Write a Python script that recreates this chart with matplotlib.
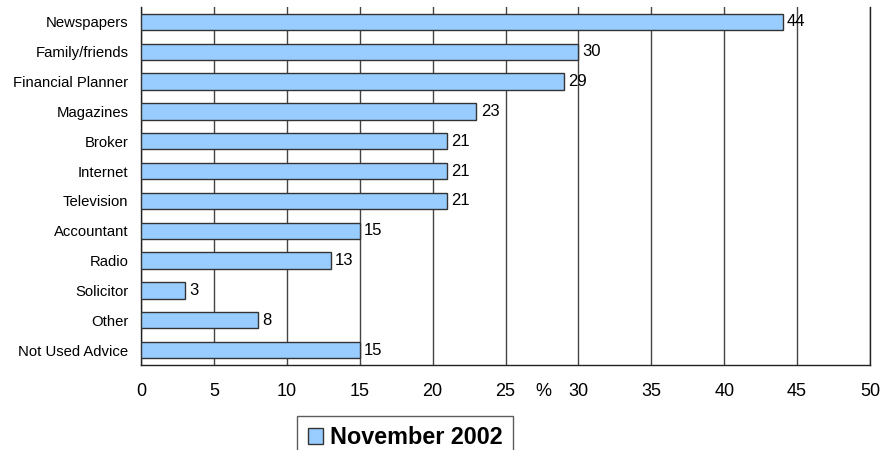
import matplotlib.pyplot as plt
from matplotlib.patches import Patch

categories = ["Newspapers", "Family/friends", "Financial Planner", "Magazines",
              "Broker", "Internet", "Television", "Accountant", "Radio",
              "Solicitor", "Other", "Not Used Advice"]
values = [44, 30, 29, 23, 21, 21, 21, 15, 13, 3, 8, 15]
series_name = "November 2002"
x_ticks = [0, 5, 10, 15, 20, 25, 30, 35, 40, 45, 50]

plt.rcParams['font.family'] = ['Liberation Sans', 'DejaVu Sans']

fig = plt.figure(figsize=(8.83, 4.5), dpi=100)
ax = fig.add_axes([141 / 883, 85 / 450, 729 / 883, 358 / 450])

pos = list(range(len(categories)))
ax.barh(pos, values, height=0.55, color="#99CCFF", edgecolor="#333333",
        linewidth=1, zorder=3)

for p, v in zip(pos, values):
    ax.text(v + 0.3, p, str(v), va="center", ha="left", fontsize=12, zorder=4)

ax.set_xlim(0, 50)
ax.set_ylim(len(categories) - 0.5, -0.5)
ax.set_xticks(x_ticks)
ax.set_xticklabels([str(t) for t in x_ticks], fontsize=13)
ax.set_yticks(pos)
ax.set_yticklabels(categories, fontsize=10.7)
ax.tick_params(axis="x", length=0, pad=13)
ax.tick_params(axis="y", length=0, pad=9)
ax.xaxis.grid(True, color="#444444", linewidth=1, zorder=1)

ax.spines["top"].set_visible(False)
for s in ["left", "bottom", "right"]:
    ax.spines[s].set_color("#222222")
    ax.spines[s].set_linewidth(1)

ax.text(27.6, -0.05, "%", transform=ax.get_xaxis_transform(),
        ha="center", va="top", fontsize=13)

handle = Patch(facecolor="#99CCFF", edgecolor="#333333", linewidth=1)
leg = fig.legend([handle], [series_name], loc="upper center",
                 bbox_to_anchor=(0.459, 0.076), frameon=True, fancybox=False,
                 prop={"weight": "bold", "size": 16.8}, handlelength=0.65,
                 handleheight=0.65, handletextpad=0.3, borderpad=0.45,
                 borderaxespad=0)
leg.get_frame().set_edgecolor("#333333")
leg.get_frame().set_linewidth(1)

plt.savefig("out.png", dpi=100)
